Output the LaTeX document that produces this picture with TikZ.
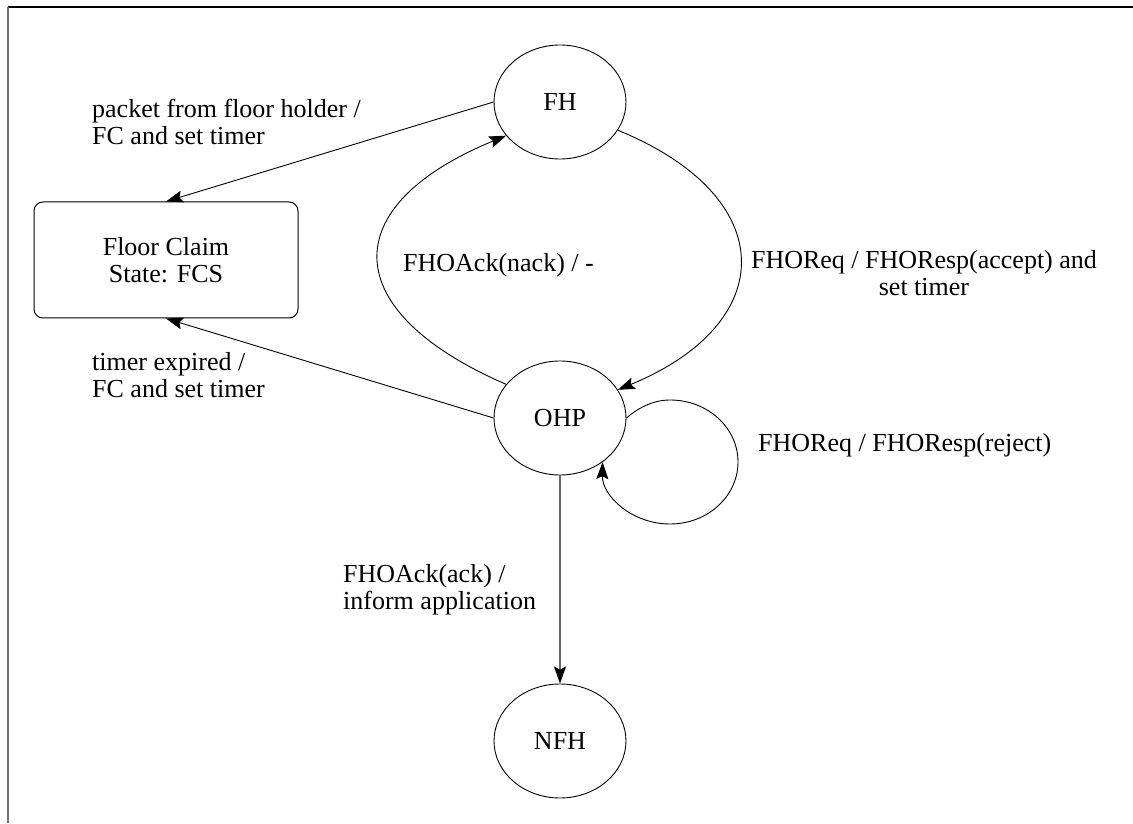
\documentclass[tikz,border=0pt]{standalone}
\usepackage{fontspec}
\setmainfont{Liberation Serif}
\usetikzlibrary{arrows.meta,shapes.geometric}
\begin{document}
\begin{tikzpicture}[x=1pt,y=1pt,
  every node/.style={font=\fontsize{26}{27}\selectfont},
  state/.style={draw, ellipse, minimum width=132pt, minimum height=114pt, inner sep=0pt, line width=0.9pt},
  claimbox/.style={draw, rounded corners=9pt, minimum width=264pt, minimum height=116pt, align=center, line width=1pt},
  lbl/.style={inner sep=0pt},
  arr/.style={-{Stealth[length=17pt,width=12pt,inset=3pt]}, line width=0.9pt},
  greyline/.style={draw=black!60, line width=1.4pt}
]
\useasboundingbox (0,0) rectangle (1133,823);

% page frame (top and left edges)
\draw[line width=1.6pt] (7.5,816) -- (1133,816);
\draw[line width=1.6pt, black!55] (8,816) -- (8,0);

% states
\node[state] (fh) at (560,721) {FH};
\node[state] (ohp) at (560,405) {OHP};
\node[state] (nfh) at (560,82) {NFH};
\node[claimbox] (fcs) at (166,563) {Floor Claim\\State: FCS};

% transitions
\draw[arr] (fh.west) -- (fcs.north);
\draw[arr] (ohp.west) -- (fcs.south);
\draw[arr] (ohp.148) .. controls (337,512) and (335,617) .. (fh.212);
\draw[arr] (fh.-26) .. controls (781,626) and (780,500) .. (ohp.26);
\draw[arr] (ohp.east) .. controls (638,415) and (653,423) .. (670,423)
  .. controls (708,423) and (738,395) .. (738,361)
  .. controls (738,327) and (708,299) .. (670,299)
  .. controls (632,299) and (602,327) .. (ohp.-46);
\draw[greyline, -{Stealth[length=17pt,width=12pt,inset=3pt,color=black]}] (ohp.south) -- (nfh.north);

% transition labels (base anchor = baseline of the last line)
\node[lbl, align=left, anchor=base west] (l1) at (92,678) {packet from floor holder /\\FC and set timer};
\node[lbl, align=left, anchor=base west] (l2) at (403,551) {FHOAck(nack) / -};
\node[lbl, align=center, anchor=base] (l3) at (924,527) {FHOReq / FHOResp(accept) and\\set timer};
\node[lbl, align=left, anchor=base west] (l4) at (92,425) {timer expired /\\FC and set timer};
\node[lbl, align=left, anchor=base west] (l5) at (758,371) {FHOReq / FHOResp(reject)};
\node[lbl, align=left, anchor=base west] (l6) at (343,214) {FHOAck(ack) /\\inform application};
\end{tikzpicture}
\end{document}
